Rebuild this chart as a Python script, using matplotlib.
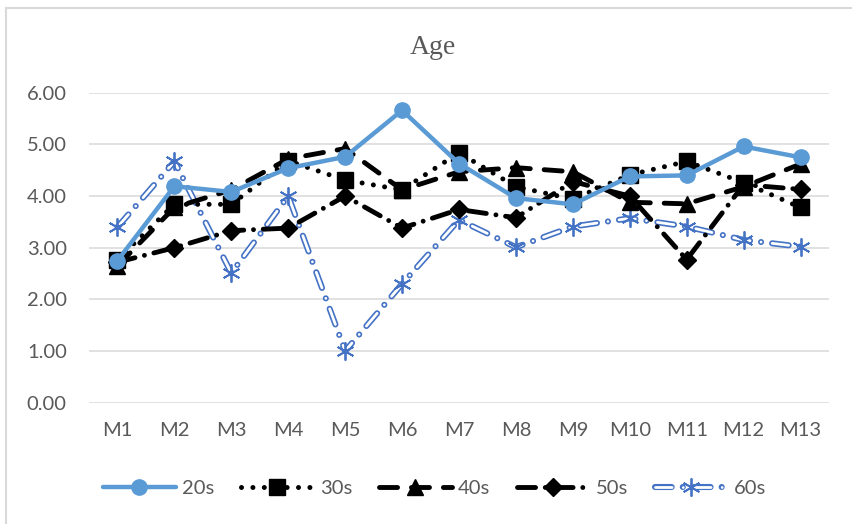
import matplotlib.pyplot as plt
from matplotlib.lines import Line2D

plt.rcParams['font.family'] = ['Lato', 'DejaVu Sans']
plt.rcParams['lines.scale_dashes'] = False

# mean scores per module for each age group
months = ['M1', 'M2', 'M3', 'M4', 'M5', 'M6', 'M7', 'M8', 'M9', 'M10', 'M11', 'M12', 'M13']
age_20s = [2.75, 4.19, 4.08, 4.54, 4.76, 5.66, 4.63, 3.96, 3.84, 4.38, 4.40, 4.96, 4.75]
age_30s = [2.77, 3.84, 3.84, 4.68, 4.31, 4.12, 4.84, 4.18, 3.94, 4.41, 4.67, 4.26, 3.78]
age_40s = [2.65, 3.78, 4.12, 4.72, 4.92, 4.12, 4.47, 4.55, 4.47, 3.88, 3.85, 4.18, 4.62]
age_50s = [2.72, 3.00, 3.33, 3.38, 4.00, 3.38, 3.74, 3.58, 4.28, 4.00, 2.77, 4.22, 4.13]
age_60s = [3.40, 4.67, 2.51, 4.00, 1.00, 2.30, 3.54, 3.01, 3.41, 3.57, 3.41, 3.15, 3.02]

BLUE = '#5B9BD5'
DARK_BLUE = '#4472C4'
GREY = '#595959'

fig = plt.figure(figsize=(8.52, 5.24), dpi=100)
ax = fig.add_axes([0.1045, 0.2315, 0.8685, 0.5915])
x = range(len(months))

h20, = ax.plot(x, age_20s, color=BLUE, lw=3.2, marker='o', ms=11,
               solid_capstyle='round', zorder=6)
h30, = ax.plot(x, age_30s, color='black', lw=3.6, marker='s', ms=11,
               dashes=(0.01, 8.2), dash_capstyle='round', zorder=5)
h40, = ax.plot(x, age_40s, color='black', lw=3.5, marker='^', ms=11,
               dashes=(13, 10), dash_capstyle='round', zorder=4)
h50, = ax.plot(x, age_50s, color='black', lw=3.5, marker='D', ms=9,
               dashes=(13, 7, 0.01, 7), dash_capstyle='round', zorder=3)

# hollow dash-dot line: a thick blue stroke with a white core on top
h60a, = ax.plot(x, age_60s, color=DARK_BLUE, lw=4.4,
                dashes=(12, 8, 0.01, 8), dash_capstyle='round', zorder=2)
h60b, = ax.plot(x, age_60s, color='white', lw=2.0,
                dashes=(12, 8, 0.01, 8), dash_capstyle='round', zorder=2)
h60c, = ax.plot(x, age_60s, ls='none', marker=(6, 2, 0), ms=13, mew=1.3,
                color=DARK_BLUE, zorder=2)

ax.set_xlim(-0.5, len(months) - 0.5)
ax.set_ylim(0, 6)
ax.set_yticks([0, 1, 2, 3, 4, 5, 6])
ax.set_yticklabels([f'{v:.2f}' for v in range(7)])
ax.set_xticks(list(x))
ax.set_xticklabels(months)
ax.tick_params(length=0, labelsize=14.5, labelcolor=GREY)
ax.tick_params(axis='y', pad=16)
ax.tick_params(axis='x', pad=14)
ax.grid(axis='y', color='#D9D9D9', lw=1.1)
ax.set_axisbelow(True)
for s in ax.spines.values():
    s.set_visible(False)

fig.text(0.508, 0.896, 'Age', ha='center', va='baseline', fontsize=20,
         color=GREY, family='Liberation Serif')

fig.legend([h20, h30, h40, h50, (h60a, h60b, h60c)],
           ['20s', '30s', '40s', '50s', '60s'],
           loc='center', bbox_to_anchor=(0.51, 0.067), ncol=5, frameon=False,
           fontsize=14.5, labelcolor=GREY, handlelength=3.6, handletextpad=0.3,
           columnspacing=1.35, numpoints=1)

# chart frame, left and top edges
fig.add_artist(Line2D([0.0076, 0.0076], [0, 0.985], transform=fig.transFigure,
                      color='#D9D9D9', lw=1.5))
fig.add_artist(Line2D([0.0076, 1], [0.985, 0.985], transform=fig.transFigure,
                      color='#D9D9D9', lw=1.5))

fig.savefig('out.png', dpi=100)
